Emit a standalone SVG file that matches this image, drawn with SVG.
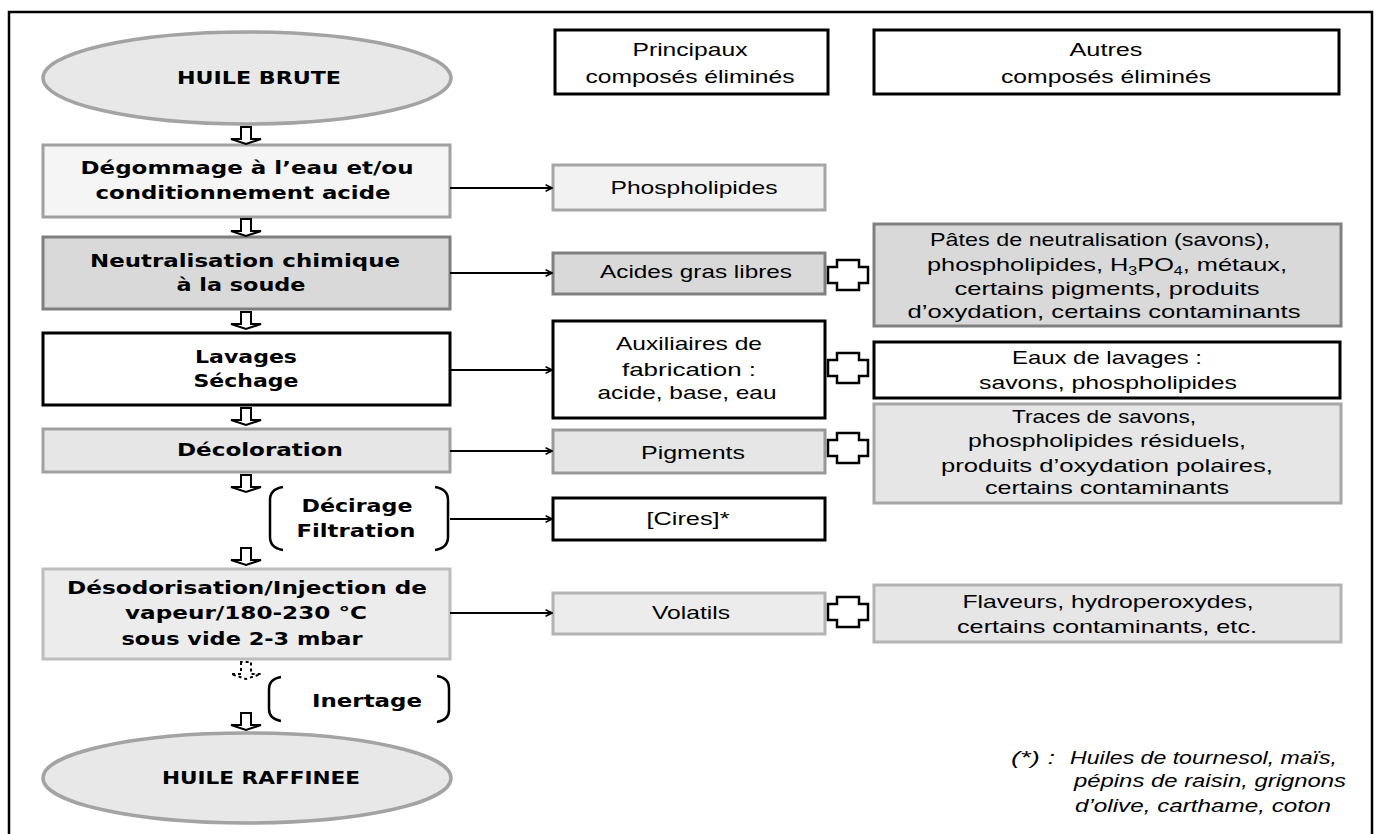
<svg xmlns="http://www.w3.org/2000/svg" width="1378" height="834" viewBox="0 0 1378 834">
<defs>
<style>
.b{font-family:"DejaVu Sans",Verdana,sans-serif;font-weight:bold;font-size:17px;fill:#000;text-anchor:middle}
.r{font-family:"Liberation Sans",Arial,sans-serif;font-size:19px;fill:#000;text-anchor:middle}
.i{font-family:"Liberation Sans",Arial,sans-serif;font-size:18px;font-style:italic;fill:#000}
.box{stroke-width:3}
.dn{fill:#fff;stroke:#000;stroke-width:2}
.plus{fill:#fff;stroke:#000;stroke-width:2.5}
.con{fill:none;stroke:#000;stroke-width:2}
.br{fill:none;stroke:#000;stroke-width:2.5}
</style>
<marker id="ah" viewBox="0 0 10 10" refX="9" refY="5" markerWidth="8" markerHeight="8" markerUnits="userSpaceOnUse" orient="auto">
<path d="M1,1 L9,5 L1,9" fill="none" stroke="#000" stroke-width="2"/>
</marker>
<path id="dnarrow" d="M-5,0 V12 H-15 L0,17 L15,12 H5 V0 Z"/>
<path id="plusshape" d="M-11,-15 H11 V-8 H20 V8 H11 V15 H-11 V8 H-20 V-8 H-11 Z"/>
</defs>
<rect width="1378" height="834" fill="#fff"/>
<path d="M9,840 V12 H1372 V840" fill="none" stroke="#000" stroke-width="2.5"/>

<g id="huile-brute">
<ellipse cx="247" cy="78" rx="204" ry="46" fill="#e8e8e8" stroke="#a3a3a3" stroke-width="3.5"/>
<text class="b" x="259" y="84" textLength="164" lengthAdjust="spacingAndGlyphs">HUILE BRUTE</text>
</g>

<g id="degommage">
<rect class="box" x="43" y="145" width="407" height="72" fill="#f5f5f5" stroke="#a0a0a0"/>
<text class="b" x="247" y="174" textLength="333" lengthAdjust="spacingAndGlyphs">Dégommage à l’eau et/ou</text>
<text class="b" x="243" y="199" textLength="295" lengthAdjust="spacingAndGlyphs">conditionnement acide</text>
</g>

<g id="neutralisation">
<rect class="box" x="43" y="237" width="407" height="72" fill="#d9d9d9" stroke="#7f7f7f"/>
<text class="b" x="245" y="267" textLength="310" lengthAdjust="spacingAndGlyphs">Neutralisation chimique</text>
<text class="b" x="241" y="291" textLength="129" lengthAdjust="spacingAndGlyphs">à la soude</text>
</g>

<g id="lavages">
<rect class="box" x="43" y="333" width="407" height="72" fill="#fff" stroke="#000"/>
<text class="b" x="246" y="363" textLength="102" lengthAdjust="spacingAndGlyphs">Lavages</text>
<text class="b" x="246" y="387" textLength="105" lengthAdjust="spacingAndGlyphs">Séchage</text>
</g>

<g id="decoloration">
<rect class="box" x="43" y="429" width="407" height="43" fill="#e6e6e6" stroke="#a0a0a0"/>
<text class="b" x="260" y="456" textLength="166" lengthAdjust="spacingAndGlyphs">Décoloration</text>
</g>

<g id="decirage">
<path class="br" d="M283,487 Q270,489 270,500 V537 Q270,548 283,550"/>
<path class="br" d="M435,487 Q448,489 448,500 V537 Q448,548 435,550"/>
<text class="b" x="357" y="512" textLength="111" lengthAdjust="spacingAndGlyphs">Décirage</text>
<text class="b" x="356" y="537" textLength="119" lengthAdjust="spacingAndGlyphs">Filtration</text>
</g>

<g id="desodorisation">
<rect class="box" x="43" y="569" width="407" height="90" fill="#ececec" stroke="#bdbdbd"/>
<text class="b" x="247" y="594" textLength="360" lengthAdjust="spacingAndGlyphs">Désodorisation/Injection de</text>
<text class="b" x="246" y="619" textLength="242" lengthAdjust="spacingAndGlyphs">vapeur/180-230 °C</text>
<text class="b" x="242" y="645" textLength="241" lengthAdjust="spacingAndGlyphs">sous vide 2-3 mbar</text>
</g>

<g id="inertage">
<path class="br" d="M281,677 Q269,679 269,689 V709 Q269,719 281,721"/>
<path class="br" d="M437,676 Q449,678 449,688 V710 Q449,720 437,722"/>
<text class="b" x="367" y="707" textLength="110" lengthAdjust="spacingAndGlyphs">Inertage</text>
</g>

<g id="huile-raffinee">
<ellipse cx="247" cy="778" rx="204" ry="45" fill="#e8e8e8" stroke="#a3a3a3" stroke-width="3.5"/>
<text class="b" x="261" y="784" textLength="198" lengthAdjust="spacingAndGlyphs">HUILE RAFFINEE</text>
</g>

<g id="principaux">
<rect class="box" x="555" y="30" width="273" height="64" fill="#fff" stroke="#000"/>
<text class="r" x="690" y="56" textLength="115" lengthAdjust="spacingAndGlyphs">Principaux</text>
<text class="r" x="690" y="83" textLength="209" lengthAdjust="spacingAndGlyphs">composés éliminés</text>
</g>

<g id="autres">
<rect class="box" x="874" y="30" width="465" height="64" fill="#fff" stroke="#000"/>
<text class="r" x="1106" y="56" textLength="73" lengthAdjust="spacingAndGlyphs">Autres</text>
<text class="r" x="1106" y="83" textLength="210" lengthAdjust="spacingAndGlyphs">composés éliminés</text>
</g>

<g id="phospholipides">
<rect class="box" x="553" y="165" width="272" height="45" fill="#f2f2f2" stroke="#a6a6a6"/>
<text class="r" x="694" y="194" textLength="167" lengthAdjust="spacingAndGlyphs">Phospholipides</text>
</g>

<g id="acides">
<rect class="box" x="553" y="253" width="272" height="41" fill="#d9d9d9" stroke="#808080"/>
<text class="r" x="696" y="278" textLength="192" lengthAdjust="spacingAndGlyphs">Acides gras libres</text>
</g>

<g id="pates">
<rect class="box" x="874" y="224" width="467" height="102" fill="#d9d9d9" stroke="#808080"/>
<text class="r" x="1100" y="246" textLength="340" lengthAdjust="spacingAndGlyphs">Pâtes de neutralisation (savons),</text>
<text class="r" x="1107" y="271" textLength="360" lengthAdjust="spacingAndGlyphs">phospholipides, H<tspan font-size="12" dy="4">3</tspan><tspan dy="-4">PO</tspan><tspan font-size="12" dy="4">4</tspan><tspan dy="-4">, métaux,</tspan></text>
<text class="r" x="1107" y="295" textLength="305" lengthAdjust="spacingAndGlyphs">certains pigments, produits</text>
<text class="r" x="1104" y="318" textLength="393" lengthAdjust="spacingAndGlyphs">d’oxydation, certains contaminants</text>
</g>

<g id="auxiliaires">
<rect class="box" x="553" y="321" width="272" height="97" fill="#fff" stroke="#000"/>
<text class="r" x="689" y="350" textLength="146" lengthAdjust="spacingAndGlyphs">Auxiliaires de</text>
<text class="r" x="689" y="376" textLength="134" lengthAdjust="spacingAndGlyphs">fabrication :</text>
<text class="r" x="687" y="399" textLength="179" lengthAdjust="spacingAndGlyphs">acide, base, eau</text>
</g>

<g id="eaux">
<rect class="box" x="874" y="342" width="466" height="56" fill="#fff" stroke="#000"/>
<text class="r" x="1107" y="364" textLength="190" lengthAdjust="spacingAndGlyphs" fill="#333">Eaux de lavages :</text>
<text class="r" x="1108" y="389" textLength="258" lengthAdjust="spacingAndGlyphs">savons, phospholipides</text>
</g>

<g id="traces">
<rect class="box" x="874" y="404" width="467" height="99" fill="#e6e6e6" stroke="#a6a6a6"/>
<text class="r" x="1104" y="423" textLength="184" lengthAdjust="spacingAndGlyphs">Traces de savons,</text>
<text class="r" x="1107" y="447" textLength="278" lengthAdjust="spacingAndGlyphs">phospholipides résiduels,</text>
<text class="r" x="1107" y="472" textLength="332" lengthAdjust="spacingAndGlyphs">produits d’oxydation polaires,</text>
<text class="r" x="1107" y="494" textLength="244" lengthAdjust="spacingAndGlyphs">certains contaminants</text>
</g>

<g id="pigments">
<rect class="box" x="553" y="430" width="272" height="43" fill="#e6e6e6" stroke="#999"/>
<text class="r" x="693" y="459" textLength="104" lengthAdjust="spacingAndGlyphs">Pigments</text>
</g>

<g id="cires">
<rect class="box" x="553" y="498" width="272" height="42" fill="#fff" stroke="#000"/>
<text class="r" x="688" y="525" textLength="83" lengthAdjust="spacingAndGlyphs">[Cires]*</text>
</g>

<g id="volatils">
<rect class="box" x="553" y="593" width="272" height="41" fill="#ececec" stroke="#b3b3b3"/>
<text class="r" x="691" y="619" textLength="78" lengthAdjust="spacingAndGlyphs">Volatils</text>
</g>

<g id="flaveurs">
<rect class="box" x="874" y="585" width="467" height="57" fill="#e6e6e6" stroke="#b3b3b3"/>
<text class="r" x="1108" y="608" textLength="291" lengthAdjust="spacingAndGlyphs">Flaveurs, hydroperoxydes,</text>
<text class="r" x="1107" y="633" textLength="300" lengthAdjust="spacingAndGlyphs">certains contaminants, etc.</text>
</g>

<g id="footnote">
<text class="i" x="1011" y="764" textLength="44" lengthAdjust="spacingAndGlyphs">(*) :</text>
<text class="i" x="1070" y="764" textLength="267" lengthAdjust="spacingAndGlyphs">Huiles de tournesol, maïs,</text>
<text class="i" x="1074" y="787" textLength="272" lengthAdjust="spacingAndGlyphs">pépins de raisin, grignons</text>
<text class="i" x="1075" y="812" textLength="256" lengthAdjust="spacingAndGlyphs">d’olive, carthame, coton</text>
</g>

<g id="connectors">
<use href="#dnarrow" class="dn" x="246" y="127"/>
<use href="#dnarrow" class="dn" x="246" y="219"/>
<use href="#dnarrow" class="dn" x="246" y="312"/>
<use href="#dnarrow" class="dn" x="246" y="408"/>
<use href="#dnarrow" class="dn" x="246" y="475"/>
<use href="#dnarrow" class="dn" x="246" y="548"/>
<use href="#dnarrow" class="dn" x="246" y="662" stroke-dasharray="3,3"/>
<use href="#dnarrow" class="dn" x="246" y="713"/>
<line class="con" x1="450" y1="188" x2="552" y2="188" marker-end="url(#ah)"/>
<line class="con" x1="450" y1="273" x2="552" y2="273" marker-end="url(#ah)"/>
<line class="con" x1="450" y1="370" x2="552" y2="370" marker-end="url(#ah)"/>
<line class="con" x1="450" y1="451" x2="552" y2="451" marker-end="url(#ah)"/>
<line class="con" x1="450" y1="519" x2="552" y2="519" marker-end="url(#ah)"/>
<line class="con" x1="450" y1="613" x2="552" y2="613" marker-end="url(#ah)"/>
<use href="#plusshape" class="plus" x="848" y="275"/>
<use href="#plusshape" class="plus" x="848" y="368"/>
<use href="#plusshape" class="plus" x="848" y="448"/>
<use href="#plusshape" class="plus" x="848" y="612"/>
</g>
</svg>
